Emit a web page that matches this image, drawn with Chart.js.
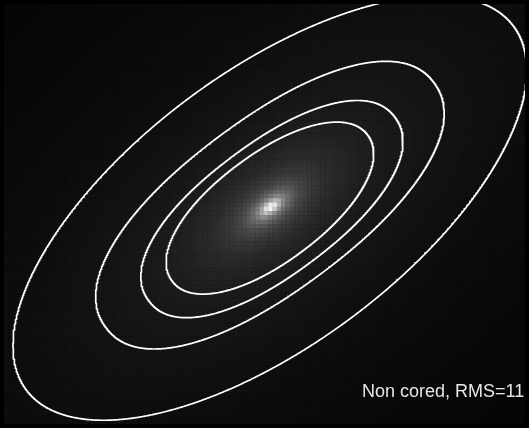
<!DOCTYPE html>
<html>
<head>
<meta charset="utf-8">
<script src="https://cdn.jsdelivr.net/npm/chart.js@4.4.1/dist/chart.umd.min.js"></script>
<style>
  html, body { margin: 0; padding: 0; background: #000; }
  #wrap { position: relative; width: 529px; height: 428px; overflow: hidden; }
  #label {
    position: absolute; left: 362px; top: 382px; line-height: 18px;
    font-family: "Liberation Sans", Arial, sans-serif; font-size: 18px;
    color: #e6e6e6; white-space: nowrap;
  }
</style>
</head>
<body>
<div id="wrap">
  <canvas id="grafico"></canvas>
  <div id="label">Non cored, RMS=11</div>
</div>
<script>
// image size (pixels of the picture) and size of one image cell
const imgW = 529;
const imgH = 428;
const cell = 4.4;

// galaxy centre and position angle (deg, counter-clockwise from x)
const centre = [271, 207];
const posAngle = 36.87;
const glowRatio = 0.5;

// surface brightness: elliptical radius -> grey level
const levelRadius = [0, 4, 8, 12, 18, 25, 35, 50, 70, 95, 125, 160, 210, 310, 450, 750];
const levelGray = [255, 240, 200, 160, 120, 95, 72, 55, 43, 35, 28, 23, 19, 13, 9, 4];

// isophote contours, outer to inner
const contourX = [270, 270, 272, 270];
const contourY = [208, 205, 209, 208];
const contourA = [309, 208, 156, 124];
const contourB = [139, 87, 67, 55];
const contourBox = [2.0, 2.2, 2.2, 2.1];

const cosA = Math.cos(posAngle * Math.PI / 180);
const sinA = Math.sin(posAngle * Math.PI / 180);

function greyAt(r) {
  for (let i = 1; i < levelRadius.length; i++) {
    if (r <= levelRadius[i]) {
      const f = (r - levelRadius[i - 1]) / (levelRadius[i] - levelRadius[i - 1]);
      return levelGray[i - 1] + f * (levelGray[i] - levelGray[i - 1]);
    }
  }
  return levelGray[levelGray.length - 1];
}

// image cells
let cells = [];
let cellColors = [];
for (let j = 0; j * cell < imgH; j++) {
  for (let i = 0; i * cell < imgW; i++) {
    const x = i * cell + cell / 2;
    const y = j * cell + cell / 2;
    const dx = x - centre[0];
    const dy = y - centre[1];
    const u = dx * cosA - dy * sinA;
    const n = dx * sinA + dy * cosA;
    const r = Math.sqrt(u * u + (n / glowRatio) * (n / glowRatio));
    const g = Math.round(greyAt(r));
    cells.push({ x: x, y: y });
    cellColors.push(`rgb(${g},${g},${g})`);
  }
}

let datasets = [];
datasets.push({
  data: cells,
  pointStyle: "rect",
  pointRadius: (cell / Math.SQRT2) * 1.06,
  pointBackgroundColor: cellColors,
  pointBorderWidth: 0,
  showLine: false,
  order: 2,
});

// contour lines
for (let k = 0; k < contourA.length; k++) {
  let pts = [];
  const p = contourBox[k];
  for (let s = 0; s <= 1440; s++) {
    const t = (s * Math.PI) / 720;
    const c = Math.cos(t);
    const sn = Math.sin(t);
    const u = contourA[k] * Math.sign(c) * Math.pow(Math.abs(c), 2 / p);
    const n = contourB[k] * Math.sign(sn) * Math.pow(Math.abs(sn), 2 / p);
    pts.push({
      x: contourX[k] + u * cosA + n * sinA,
      y: contourY[k] - u * sinA + n * cosA,
    });
  }
  datasets.push({
    data: pts,
    showLine: true,
    borderColor: "#ffffff",
    borderWidth: 1.7,
    borderJoinStyle: "round",
    pointRadius: 0,
    tension: 0,
    order: 1,
  });
}

const chart = new Chart("grafico", {
  type: "scatter",
  data: { datasets: datasets },
  options: {
    responsive: true,
    maintainAspectRatio: false,
    animation: false,
    events: [],
    layout: { padding: 0 },
    plugins: { legend: { display: false }, tooltip: { enabled: false } },
    scales: {
      x: { type: "linear", min: 0, max: imgW, display: false },
      y: { type: "linear", min: 0, max: imgH, reverse: true, display: false },
    },
  },
});
</script>
</body>
</html>
